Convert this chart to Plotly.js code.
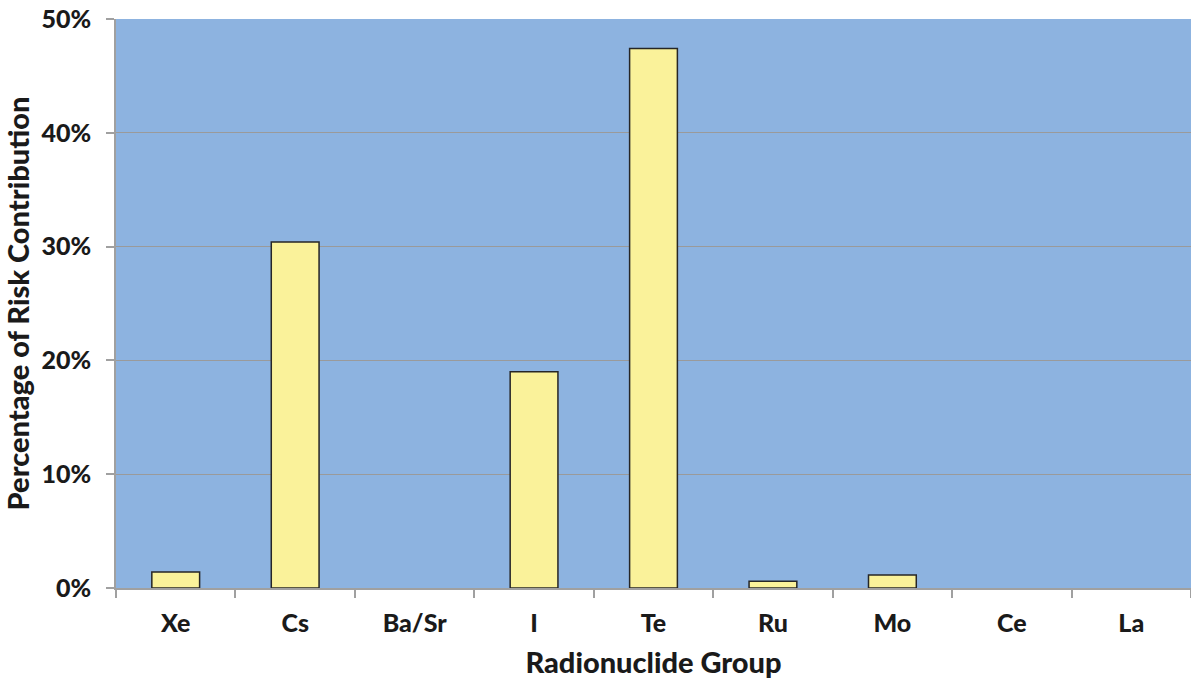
<!DOCTYPE html>
<html>
<head>
<meta charset="utf-8">
<script src="https://cdn.plot.ly/plotly-3.0.1.min.js"></script>
<style>html,body{margin:0;padding:0;background:#fff;overflow:hidden}</style>
</head>
<body>
<div id="chart" style="width:1191px;height:680px"></div>
<script>
const categories = ["Xe", "Cs", "Ba/Sr", "I", "Te", "Ru", "Mo", "Ce", "La"];
const riskShare = [0.014, 0.304, 0, 0.190, 0.474, 0.006, 0.0115, 0, 0];
const yTickVals = [0, 0.1, 0.2, 0.3, 0.4, 0.5];
const yTickText = ["0%", "10%", "20%", "30%", "40%", "50%"];

const font = "Lato, 'Open Sans', sans-serif";
const outlineWidths = riskShare.map(v => v > 0 ? 1.5 : 0);

Plotly.newPlot("chart", [{
  type: "bar",
  x: categories,
  y: riskShare,
  marker: {color: "#FAF29A", line: {color: "#262626", width: outlineWidths}},
  hoverinfo: "x+y"
}], {
  width: 1191, height: 680,
  margin: {l: 116, r: 0, t: 19, b: 92, pad: 0},
  paper_bgcolor: "#ffffff",
  plot_bgcolor: "#8DB3E0",
  bargap: 0.6,
  showlegend: false,
  xaxis: {
    type: "category",
    tickson: "boundaries",
    ticks: "outside", ticklen: 8, tickcolor: "#a0a0a0", tickwidth: 1.5,
    ticklabelstandoff: 12,
    showline: true, linecolor: "#a0a0a0", linewidth: 1.5,
    showgrid: false, zeroline: false,
    automargin: false,
    tickfont: {family: font, size: 25, color: "#1a1a1a", weight: 900},
    title: {text: "Radionuclide Group", font: {family: font, size: 29, color: "#1a1a1a", weight: 900}, standoff: 17}
  },
  yaxis: {
    range: [0, 0.5],
    tickvals: yTickVals, ticktext: yTickText,
    ticks: "outside", ticklen: 8, tickcolor: "#a0a0a0", tickwidth: 1.5,
    ticklabelstandoff: 10,
    showline: true, linecolor: "#a0a0a0", linewidth: 1.5,
    showgrid: true, gridcolor: "#9a9a9a", gridwidth: 1,
    zeroline: false,
    automargin: false,
    tickfont: {family: font, size: 25, color: "#1a1a1a", weight: 900},
    title: {text: "Percentage of Risk Contribution", font: {family: font, size: 29, color: "#1a1a1a", weight: 900}, standoff: 16}
  }
}, {displayModeBar: false, responsive: false});
</script>
</body>
</html>
